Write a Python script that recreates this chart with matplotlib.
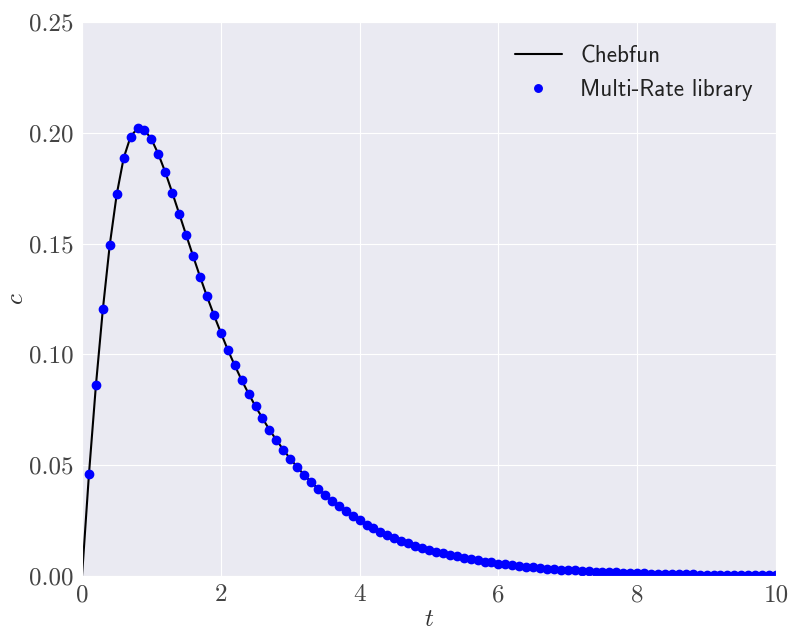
import matplotlib
matplotlib.use("Agg")
import matplotlib.pyplot as plt
import seaborn as sns
import numpy as np

# Multi-Rate library samples, t = 0.1 ... 10.0 step 0.1
t_pts = np.round(np.arange(1, 101) * 0.1, 1)
c_pts = [
    0.0460, 0.0860, 0.1203, 0.1495, 0.1722, 0.1886, 0.1983, 0.2020, 0.2013, 0.1971,
    0.1904, 0.1822, 0.1730, 0.1635, 0.1539, 0.1444, 0.1351, 0.1262, 0.1178, 0.1098,
    0.1021, 0.0951, 0.0884, 0.0823, 0.0765, 0.0712, 0.0660, 0.0614, 0.0570, 0.0529,
    0.0492, 0.0456, 0.0424, 0.0394, 0.0366, 0.0339, 0.0314, 0.0292, 0.0271, 0.0251,
    0.0232, 0.0215, 0.0200, 0.0185, 0.0171, 0.0159, 0.0147, 0.0137, 0.0128, 0.0119,
    0.0110, 0.0102, 0.0095, 0.0088, 0.0082, 0.0076, 0.0070, 0.0065, 0.0061, 0.0056,
    0.0052, 0.0048, 0.0045, 0.0042, 0.0039, 0.0036, 0.0033, 0.0031, 0.0029, 0.0027,
    0.0025, 0.0023, 0.0021, 0.0020, 0.0018, 0.0017, 0.0016, 0.0015, 0.0014, 0.0013,
    0.0012, 0.0011, 0.0010, 0.0009, 0.0009, 0.0008, 0.0007, 0.0007, 0.0006, 0.0006,
    0.0005, 0.0005, 0.0005, 0.0004, 0.0004, 0.0004, 0.0003, 0.0003, 0.0003, 0.0003,
]
# Chebfun curve starts at the origin and runs through the same values
t_line = np.concatenate([[0.0], t_pts])
c_line = np.concatenate([[0.0], c_pts])

x_ticks = [0, 2, 4, 6, 8, 10]
y_ticks = [0.00, 0.05, 0.10, 0.15, 0.20, 0.25]

sns.set_style("darkgrid")
plt.rcParams["mathtext.fontset"] = "cm"
plt.rcParams["font.family"] = ["cmr10", "DejaVu Sans"]
plt.rcParams["axes.formatter.use_mathtext"] = True

fig = plt.figure(figsize=(7.91, 6.37), dpi=100)
ax = fig.add_axes([0.1037, 0.0958, 0.8773, 0.8697])

ax.plot(t_line, c_line, color="black", lw=1.5, label="Chebfun")
ax.plot(t_pts, c_pts, "o", color="blue", ms=6, label="Multi-Rate library")

ax.set_xlim(0, 10)
ax.set_ylim(0, 0.25)
ax.set_xticks(x_ticks)
ax.set_yticks(y_ticks)
ax.set_xticklabels([str(v) for v in x_ticks], family="cmr10", fontsize=18, color="#444444")
ax.set_yticklabels(["%.2f" % v for v in y_ticks], family="cmr10", fontsize=18, color="#444444")
ax.tick_params(axis="both", length=0, pad=6)

ax.set_xlabel("$t$", fontsize=18, color="#333333", labelpad=2)
ax.set_ylabel("$c$", fontsize=18, color="#333333", labelpad=1)

leg = ax.legend(loc="upper right", frameon=False, prop={"family": "cmss10", "size": 16.7},
                handlelength=2.0, borderaxespad=0.6, markerscale=0.9)
for txt in leg.get_texts():
    txt.set_color("#222222")

fig.savefig("out.png", dpi=100)
